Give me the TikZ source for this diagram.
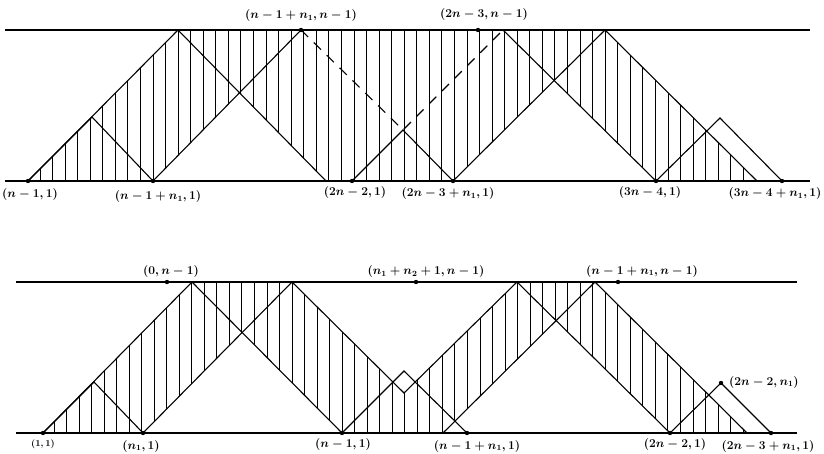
\documentclass[tikz,border=0pt]{standalone}
\usetikzlibrary{calc,positioning}
\begin{document}
\begin{tikzpicture}[
  x=1pt, y=-1pt,
  rail/.style={line width=1.1pt},
  edge/.style={line width=1.1pt, line join=miter},
  ghost/.style={line width=1.1pt, dash pattern=on 10pt off 8pt},
  hatch/.style={line width=1pt},
  lbl/.style={font=\fontsize{11.5}{13}\selectfont\boldmath, inner sep=1pt},
  tiny/.style={font=\fontsize{9}{11}\selectfont\boldmath, inner sep=1pt}
]
\useasboundingbox (0,0) rectangle (824,454);

% upper strip
\coordinate (ul) at (5,30);   \coordinate (ur) at (810,30);
\coordinate (ll) at (5,181);  \coordinate (lr) at (810,181);
\coordinate (a1) at (28,181);
\coordinate (a2) at (92,117);
\coordinate (a3) at (153,181);
\coordinate (a4) at (178,30);
\coordinate (a5) at (301,30);
\coordinate (a6) at (326,181);
\coordinate (a7) at (352,181);
\coordinate (a8) at (403,130);
\coordinate (a9) at (453,181);
\coordinate (a10) at (478,30);
\coordinate (a11) at (503,30);
\coordinate (a12) at (605,30);
\coordinate (a13) at (656,181);
\coordinate (a14) at (720,118);
\coordinate (a15) at (757,181);
\coordinate (a16) at (782,181);

\begin{scope}
  \clip (a1) -- (a4) -- (a12) -- (a15) -- (a13)
    -- (intersection of a9--a12 and a11--a13) -- (a9) -- (a6)
    -- (intersection of a3--a5 and a4--a6) -- (a3) -- cycle;
  \foreach \k in {0,...,57}
    \draw[hatch] (40+12.56*\k,25) -- ++(0,160);
\end{scope}

\draw[rail] (ul) -- (ur);
\draw[rail] (ll) -- (lr);
\draw[edge] (a1) -- (a4) -- (a6);
\draw[edge] (a1) -- (a2) -- (a3) -- (a5);
\draw[ghost] (a5) -- (a8) -- (a11);
\draw[edge] (a7) -- (a8) -- (a9) -- (a12) -- (a15);
\draw[edge] (a11) -- (a13) -- (a14) -- (a16);
\foreach \p in {a1,a3,a5,a7,a9,a10,a13,a16}
  \fill (\p) circle (2.2);

\node[lbl] (ta1) at (30,195) {$(n-1,1)$};
\node[lbl] (ta3) at (158,197) {$(n-1+n_1,1)$};
\node[lbl] (ta7) at (355,193) {$(2n-2,1)$};
\node[lbl] (ta9) at (448,194) {$(2n-3+n_1,1)$};
\node[lbl] (ta13) at (650,193) {$(3n-4,1)$};
\node[lbl] (ta16) at (775,194) {$(3n-4+n_1,1)$};
\node[lbl] (ta5) at (301,16) {$(n-1+n_1,n-1)$};
\node[lbl] (ta10) at (484,15) {$(2n-3,n-1)$};

% lower strip
\coordinate (vl) at (16,282);  \coordinate (vr) at (797,282);
\coordinate (wl) at (16,433);  \coordinate (wr) at (797,433);
\coordinate (b1) at (43,433);
\coordinate (b2) at (94,382);
\coordinate (b3) at (143,433);
\coordinate (b4) at (192,282);
\coordinate (b5) at (167,282);
\coordinate (b6) at (292,282);
\coordinate (b7) at (342,433);
\coordinate (b8) at (404,371);
\coordinate (b9) at (404,393);
\coordinate (b10) at (467,433);
\coordinate (b11) at (416,282);
\coordinate (b12) at (517,282);
\coordinate (b13) at (443,433);
\coordinate (b14) at (595,282);
\coordinate (b15) at (618,282);
\coordinate (b16) at (670,433);
\coordinate (b17) at (721,383);
\coordinate (b18) at (771,433);
\coordinate (b19) at (747,433);

\begin{scope}
  \clip (b1) -- (b4) -- (b6) -- (b9) -- (b12) -- (b14) -- (b19) -- (b16)
    -- (intersection of b13--b14 and b12--b16) -- (b13) -- (b7)
    -- (intersection of b3--b6 and b4--b7) -- (b3) -- cycle;
  \foreach \k in {0,...,55}
    \draw[hatch] (54+12.53*\k,277) -- ++(0,160);
\end{scope}

\draw[rail] (vl) -- (vr);
\draw[rail] (wl) -- (wr);
\draw[edge] (b1) -- (b4) -- (b7) -- (b8) -- (b10);
\draw[edge] (b1) -- (b2) -- (b3) -- (b6) -- (b9) -- (b12) -- (b16) -- (b17) -- (b18);
\draw[edge] (b13) -- (b14) -- (b19);
\foreach \p in {b1,b3,b5,b7,b10,b11,b15,b16,b17,b18}
  \fill (\p) circle (2.2);

\node[tiny] (tb1) at (43,444) {$(1,1)$};
\node[lbl] (tb3) at (141,446) {$(n_1,1)$};
\node[lbl] (tb7) at (343,444) {$(n-1,1)$};
\node[lbl] (tb10) at (477,446) {$(n-1+n_1,1)$};
\node[lbl] (tb16) at (675,444) {$(2n-2,1)$};
\node[lbl] (tb18) at (768,446) {$(2n-3+n_1,1)$};
\node[lbl] (tb5) at (171,272) {$(0,n-1)$};
\node[lbl] (tb11) at (426,272) {$(n_1+n_2+1,n-1)$};
\node[lbl] (tb15) at (642,271) {$(n-1+n_1,n-1)$};
\node[lbl, anchor=west] (tb17) at (728,382) {$(2n-2,n_1)$};
\end{tikzpicture}
\end{document}
